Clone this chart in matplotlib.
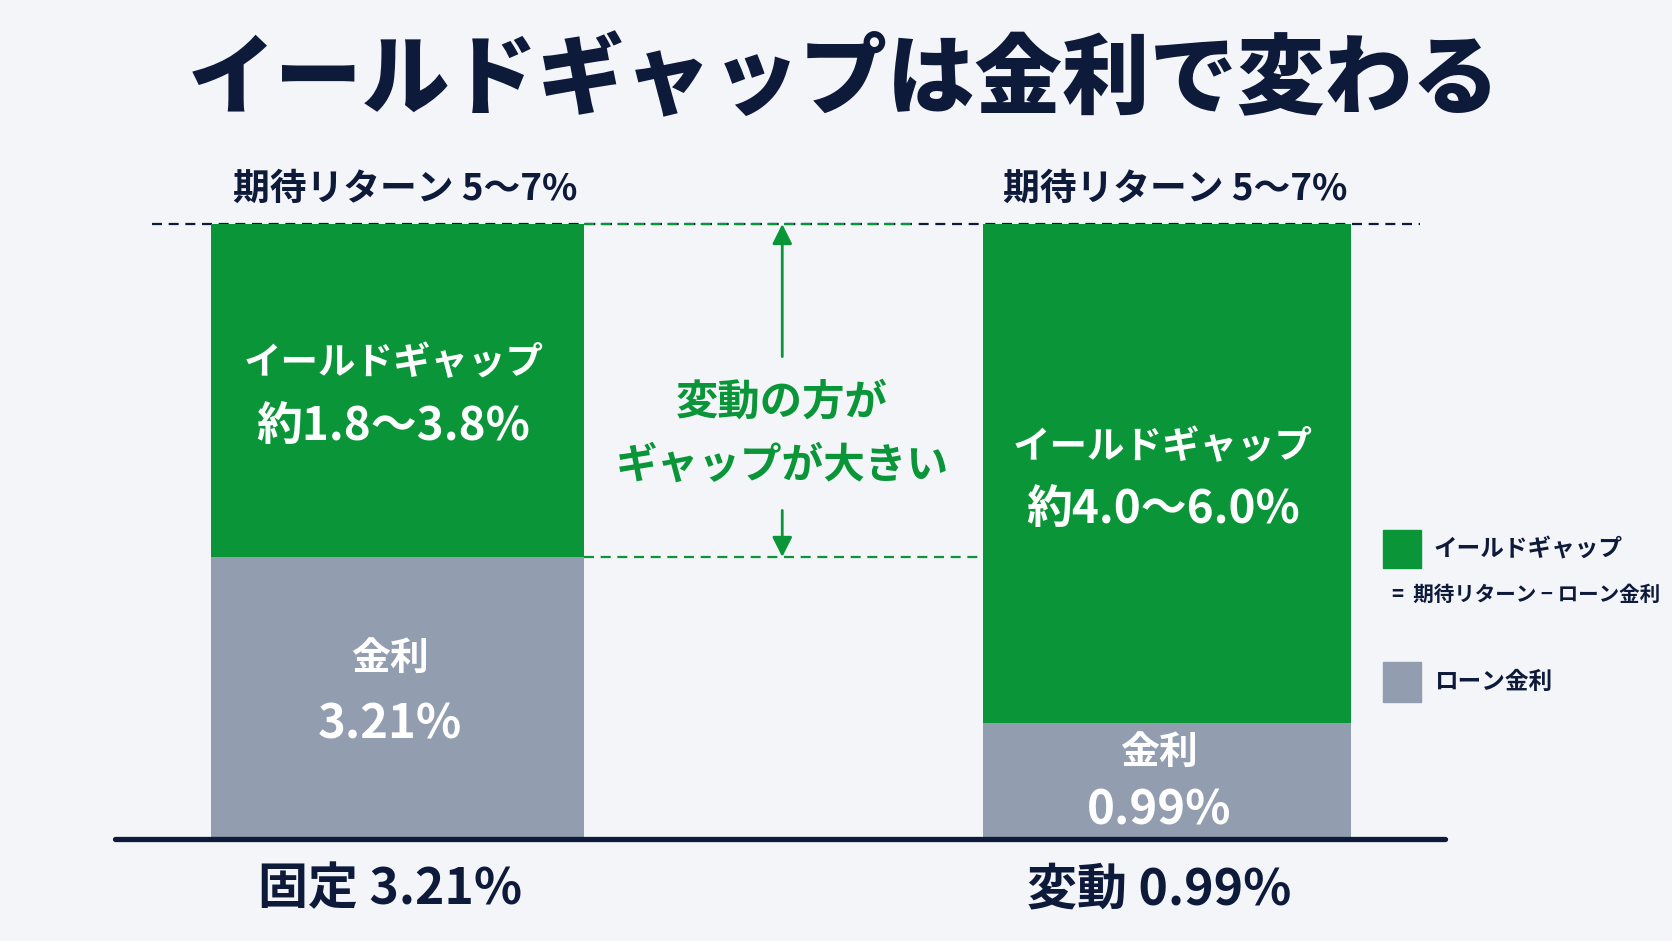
import matplotlib
matplotlib.use("Agg")
import matplotlib.pyplot as plt
from matplotlib.patches import Rectangle

plt.rcParams['font.family'] = ['Noto Sans CJK JP', 'DejaVu Sans']

# ---- data ----
categories = ["固定", "変動"]
loan_rate = [3.21, 0.99]            # labelled loan rates (%)
rate_bar_height = [3.21, 1.32]      # gray segment heights as drawn
expected_return_top = 7.0           # top of expected return range (5-7%)
expected_return_label = "期待リターン 5〜7%"
gap_labels = ["約1.8〜3.8%", "約4.0〜6.0%"]
bottom_labels = ["固定 3.21%", "変動 0.99%"]
rate_labels = ["3.21%", "0.99%"]

GREEN = "#0a9638"
GRAY = "#939db0"
NAVY = "#0d1a3a"
BG = "#f3f5f9"

W, H = 1672, 941
fig = plt.figure(figsize=(W / 100, H / 100), dpi=100, facecolor=BG)
base_px, top_px = 839, 224
ax = fig.add_axes([0, 1 - base_px / H, 1, (base_px - top_px) / H])
ax.set_facecolor(BG)
ax.set_ylim(0, expected_return_top)
ax.set_xlim(-397.5 / 769.5, (W - 397.5) / 769.5)
ax.axis("off")

x = [0, 1]
widths = [0.485, 0.478]
gap_height = [expected_return_top - r for r in rate_bar_height]
ax.bar(x, rate_bar_height, width=widths, color=GRAY, zorder=2)
ax.bar(x, gap_height, bottom=rate_bar_height, width=widths, color=GREEN, zorder=2)

# baseline
ax.plot([-0.367, 1.361], [0, 0], color=NAVY, lw=3.8, solid_capstyle="round",
        zorder=3, clip_on=False)

# top dashed line
dash = (0, (4.5, 3))
ax.plot([-0.319, 1.329], [expected_return_top] * 2, color=NAVY, lw=1.6,
        linestyle=dash, zorder=1, clip_on=False)
ax.plot([0.2425, 0.675], [expected_return_top] * 2, color=GREEN, lw=1.6,
        linestyle=dash, zorder=1.5, clip_on=False)
# lower dashed line at fixed rate
ax.plot([0.2425, 0.758], [rate_bar_height[0]] * 2, color=GREEN, lw=1.6,
        linestyle=dash, zorder=1.5)

# arrows
ax.annotate("", xy=(0.5, expected_return_top), xytext=(0.5, 5.49),
            arrowprops=dict(arrowstyle="-|>,head_length=0.5,head_width=0.25",
                            color=GREEN, lw=2,
                            mutation_scale=24, shrinkA=0, shrinkB=0),
            annotation_clip=False)
ax.annotate("", xy=(0.5, rate_bar_height[0]), xytext=(0.5, 3.74),
            arrowprops=dict(arrowstyle="-|>,head_length=0.5,head_width=0.25",
                            color=GREEN, lw=2,
                            mutation_scale=24, shrinkA=0, shrinkB=0))

ax.text(0.5, 4.97, "変動の方が", color=GREEN, fontsize=30.5, fontweight="bold",
        ha="center", va="center")
ax.text(0.5, 4.25, "ギャップが大きい", color=GREEN, fontsize=30, fontweight="bold",
        ha="center", va="center")

# labels above bars
for xi in x:
    ax.text(xi + 0.01, 7.39, expected_return_label, color=NAVY, fontsize=26.5,
            fontweight="bold", ha="center", va="center", clip_on=False)

# gap labels
gap_y = [(5.42, 4.69), (4.47, 3.74)]
for xi, (y1, y2), lab in zip(x, gap_y, gap_labels):
    ax.text(xi - 0.005, y1, "イールドギャップ", color="white", fontsize=27,
            fontweight="bold", ha="center", va="center")
    ax.text(xi - 0.005, y2, lab, color="white", fontsize=33,
            fontweight="bold", ha="center", va="center")

# rate labels
rate_y = [(2.05, 1.30), (0.99, 0.33)]
for xi, (y1, y2), lab in zip(x, rate_y, rate_labels):
    ax.text(xi - 0.01, y1, "金利", color="white", fontsize=28,
            fontweight="bold", ha="center", va="center")
    ax.text(xi - 0.01, y2, lab, color="white", fontsize=34,
            fontweight="bold", ha="center", va="center")

# bottom labels
for xi, lab in zip(x, bottom_labels):
    ax.text(xi - 0.01, -0.58, lab, color=NAVY, fontsize=36, fontweight="bold",
            ha="center", va="center", clip_on=False)

# title
fig.text(0.505, 0.914, "イールドギャップは金利で変わる", color=NAVY, fontsize=63,
         fontweight="black", ha="center", va="center")

# legend
fig.add_artist(Rectangle((1383 / W, 1 - 568 / H), 38 / W, 38 / H,
                         transform=fig.transFigure, color=GREEN))
fig.add_artist(Rectangle((1383 / W, 1 - 702 / H), 38 / W, 40 / H,
                         transform=fig.transFigure, color=GRAY))
fig.text(1434 / W, 1 - 549 / H, "イールドギャップ", color=NAVY, fontsize=17,
         fontweight="bold", ha="left", va="center")
fig.text(1392 / W, 1 - 594 / H, "=  期待リターン − ローン金利", color=NAVY,
         fontsize=14.8, fontweight="bold", ha="left", va="center")
fig.text(1434 / W, 1 - 682 / H, "ローン金利", color=NAVY, fontsize=17,
         fontweight="bold", ha="left", va="center")

fig.savefig("out.png", dpi=100, facecolor=BG)
